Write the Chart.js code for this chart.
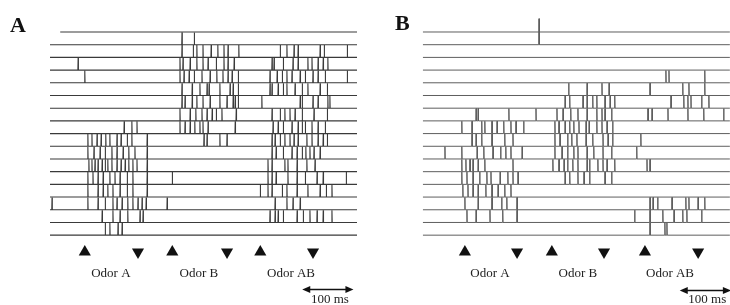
<!DOCTYPE html>
<html><head><meta charset="utf-8">
<script src="https://cdn.jsdelivr.net/npm/chart.js@4/dist/chart.umd.min.js"></script>
<style>
html,body{margin:0;padding:0;background:#fff;width:730px;height:305px;overflow:hidden}
#wrap{position:relative;width:730px;height:305px}
.pane{position:absolute;top:0;width:365px;height:305px}
canvas{display:block}
</style></head><body>
<div id="wrap">
<div class="pane" style="left:0"><canvas id="cA" width="365" height="305"></canvas></div>
<div class="pane" style="left:365px"><canvas id="cB" width="365" height="305"></canvas></div>
</div>
<script>
// ---- DATA (time in ms from trace start; trace index 0 = top) ----
const odorLabels = ['Odor A', 'Odor B', 'Odor AB'];

// Panel A
const traceStartA = [20,0,0,0,0,0,0,0,0,0,0,0,0,0,0,0,0];
const traceEndA = 600;
const spikesA = [
  [],
  [258, 282],
  [258, 280, 287, 299, 315, 328, 340, 348, 369, 450, 463, 477, 485, 528, 536, 581],
  [55, 254, 260, 274, 287, 299, 309, 325, 340, 348, 360, 434, 438, 456, 475, 485, 504, 512, 524, 534, 543],
  [68, 254, 262, 272, 282, 297, 313, 326, 338, 348, 356, 368, 430, 444, 454, 463, 473, 489, 499, 514, 524, 538, 581],
  [258, 278, 293, 307, 311, 332, 352, 358, 368, 430, 434, 446, 456, 463, 479, 493, 504, 528, 542],
  [258, 264, 278, 287, 299, 313, 332, 346, 358, 362, 368, 414, 489, 493, 514, 524, 543, 547],
  [254, 274, 285, 297, 307, 317, 325, 336, 364, 434, 450, 459, 469, 479, 493, 516, 542],
  [145, 160, 170, 254, 264, 274, 283, 293, 299, 309, 362, 436, 446, 456, 473, 485, 493, 499, 512, 524, 538],
  [74, 82, 92, 100, 109, 117, 131, 139, 151, 160, 190, 301, 307, 332, 346, 434, 440, 450, 459, 469, 477, 485, 502, 512, 524, 534, 542],
  [74, 86, 98, 108, 121, 131, 143, 154, 166, 190, 434, 442, 456, 473, 483, 493, 500, 508, 516, 528],
  [76, 82, 88, 94, 102, 108, 113, 121, 131, 139, 147, 154, 162, 170, 190, 426, 434, 459, 465, 483, 502, 518],
  [74, 84, 94, 104, 117, 127, 137, 151, 162, 190, 239, 426, 434, 442, 465, 483, 499, 522, 534, 579],
  [74, 94, 104, 113, 123, 137, 151, 162, 190, 411, 426, 434, 454, 463, 483, 504, 528, 540, 551],
  [4, 74, 94, 108, 123, 131, 141, 152, 162, 172, 180, 188, 229, 440, 463, 475, 489],
  [102, 123, 137, 152, 176, 182, 430, 440, 446, 456, 483, 495, 508, 522, 534, 551],
  [108, 117, 133, 141]
];
const tallSpikesA = [];
const onsetsA  = [68, 239, 411];
const offsetsA = [172, 346, 514];
const labelTimesA = [119, 291, 471];
const scaleBarA = [493, 593];   // 100 ms

// Panel B
const traceStartB = [0,0,0,0,0,0,0,0,0,0,0,0,0,0,0,0,0];
const traceEndB = 600;
const spikesB = [
  [],
  [],
  [],
  [],
  [475, 481, 551],
  [285, 321, 350, 364, 444, 508, 520, 551],
  [278, 287, 313, 321, 332, 340, 356, 366, 375, 485, 510, 518, 524, 545, 559],
  [104, 108, 168, 221, 262, 274, 289, 303, 321, 340, 350, 356, 369, 440, 448, 479, 518, 549, 588],
  [76, 96, 115, 121, 135, 145, 158, 172, 182, 197, 258, 266, 278, 287, 295, 305, 319, 325, 340, 350, 360, 371],
  [96, 104, 115, 135, 160, 176, 258, 268, 283, 291, 301, 319, 332, 352, 362, 371, 426],
  [43, 76, 106, 119, 137, 152, 162, 172, 194, 258, 272, 283, 295, 303, 321, 334, 352, 369, 418],
  [76, 84, 92, 98, 108, 121, 176, 254, 266, 276, 283, 293, 303, 321, 326, 342, 352, 360, 375, 438, 444],
  [76, 86, 98, 111, 125, 133, 151, 166, 176, 186, 278, 287, 303, 315, 326, 356, 369],
  [78, 88, 98, 108, 123, 135, 147, 160, 172],
  [82, 108, 135, 154, 164, 184, 444, 450, 459, 487, 514, 520, 538, 551],
  [86, 104, 131, 156, 184, 414, 444, 469, 491, 508, 516, 545],
  [444, 473, 477]
];
const tallSpikesB = [{trace: 1, time: 227, amp: 2.05}];
const onsetsB  = [82, 252, 434];
const offsetsB = [184, 354, 538];
const labelTimesB = [131, 303, 483];
const scaleBarB = [502, 602];   // 100 ms

// ---- drawing helpers ----
const SPIKE_AMP = 0.97;

function traceData(i, start, end, spikes, tall) {
  const ev = spikes.map(t => [t, SPIKE_AMP]);
  tall.filter(e => e.trace === i).forEach(e => ev.push([e.time, e.amp]));
  ev.sort((a, b) => a[0] - b[0]);
  const pts = [{x: start, y: i}];
  ev.forEach(([t, a]) => {
    pts.push({x: t - 0.5, y: i}, {x: t, y: i - a}, {x: t + 0.5, y: i});
  });
  pts.push({x: end, y: i});
  return pts;
}

const annotPlugin = {
  id: 'annot',
  afterDatasetsDraw(chart) {
    const o = chart.options.plugins.annot;
    const ctx = chart.ctx, xs = chart.scales.x, ys = chart.scales.y;
    ctx.save();
    ctx.fillStyle = '#111';
    ctx.font = 'bold 22px "Liberation Serif", "DejaVu Serif", serif';
    ctx.textAlign = 'left'; ctx.textBaseline = 'alphabetic';
    ctx.fillText(o.letter, o.letterX, o.letterY);
    ctx.fillStyle = '#222';
    ctx.font = '13px "Liberation Serif", "DejaVu Serif", serif';
    ctx.textAlign = 'center'; ctx.textBaseline = 'middle';
    o.labelTimes.forEach((t, k) => {
      ctx.fillText(odorLabels[k], xs.getPixelForValue(t), ys.getPixelForValue(o.labelY));
    });
    const x1 = xs.getPixelForValue(o.bar[0]), x2 = xs.getPixelForValue(o.bar[1]);
    const y = Math.round(ys.getPixelForValue(o.barY)) + 0.5;
    ctx.strokeStyle = '#111'; ctx.lineWidth = 1.3;
    ctx.beginPath(); ctx.moveTo(x1 + 4, y); ctx.lineTo(x2 - 4, y); ctx.stroke();
    ctx.fillStyle = '#111';
    ctx.beginPath(); ctx.moveTo(x1, y); ctx.lineTo(x1 + 8, y - 3.5); ctx.lineTo(x1 + 8, y + 3.5); ctx.closePath(); ctx.fill();
    ctx.beginPath(); ctx.moveTo(x2, y); ctx.lineTo(x2 - 8, y - 3.5); ctx.lineTo(x2 - 8, y + 3.5); ctx.closePath(); ctx.fill();
    ctx.fillStyle = '#222';
    ctx.textAlign = 'center';
    ctx.fillText('100 ms', (x1 + x2) / 2 + 2, ys.getPixelForValue(o.barTextY));
    ctx.restore();
  }
};

function makePanel(id, cfg) {
  const datasets = [];
  cfg.spikes.forEach((sp, i) => {
    datasets.push({
      type: 'scatter', showLine: true,
      data: traceData(i, cfg.starts[i], cfg.end, sp, cfg.tall),
      borderColor: cfg.color, borderWidth: cfg.lw,
      pointRadius: 0, tension: 0, fill: false
    });
  });
  const marks = [];
  const rot = [];
  cfg.on.forEach((t, k) => {
    marks.push({x: t, y: 17.32}); rot.push(0);
    marks.push({x: cfg.off[k], y: 17.32}); rot.push(180);
  });
  datasets.push({
    type: 'scatter', data: marks, showLine: false,
    pointStyle: 'triangle', pointRadius: 7, pointRotation: rot,
    backgroundColor: '#111', borderColor: '#111', borderWidth: 0
  });
  new Chart(document.getElementById(id), {
    type: 'scatter',
    data: {datasets},
    options: {
      responsive: false, animation: false, events: [],
      layout: {padding: 0, autoPadding: false},
      scales: {
        x: {type: 'linear', display: false, min: cfg.xmin, max: cfg.xmax},
        y: {type: 'linear', display: false, reverse: true, min: -2.52, max: 21.5}
      },
      plugins: {
        legend: {display: false}, tooltip: {enabled: false},
        annot: {
          letter: cfg.letter, letterX: cfg.letterX, letterY: cfg.letterY,
          labelTimes: cfg.labels, labelY: 19.06,
          bar: cfg.bar, barY: cfg.barY, barTextY: cfg.barTextY
        }
      }
    },
    plugins: [annotPlugin]
  });
}

makePanel('cA', {
  spikes: spikesA, starts: traceStartA, end: traceEndA, tall: tallSpikesA,
  color: '#3a3a3a', lw: 1.1, xmin: -97.7, xmax: 615.6,
  on: onsetsA, off: offsetsA, labels: labelTimesA,
  letter: 'A', letterX: 10, letterY: 32,
  bar: scaleBarA, barY: 20.24, barTextY: 21.1
});
makePanel('cB', {
  spikes: spikesB, starts: traceStartB, end: traceEndB, tall: tallSpikesB,
  color: '#5e5e5e', lw: 1, xmin: -113.3, xmax: 600.3,
  on: onsetsB, off: offsetsB, labels: labelTimesB,
  letter: 'B', letterX: 30, letterY: 30,
  bar: scaleBarB, barY: 20.31, barTextY: 21.1
});
</script>
</body></html>
